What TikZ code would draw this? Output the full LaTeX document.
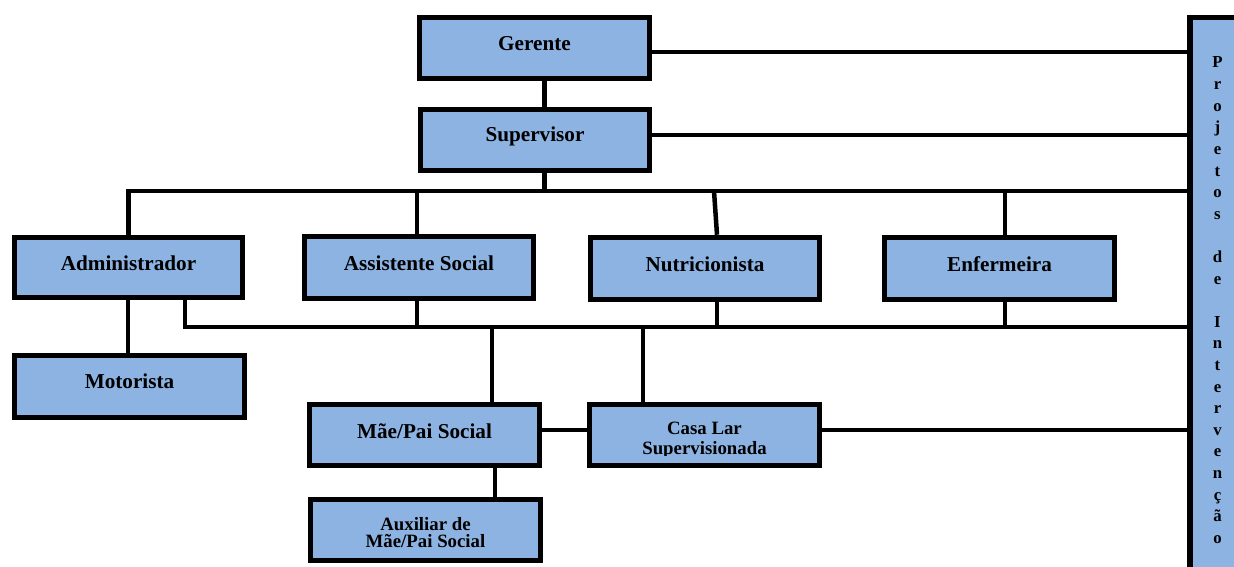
\documentclass[tikz,border=0pt]{standalone}
\usepackage{fontspec}
\setmainfont{Liberation Serif}
\definecolor{boxblue}{RGB}{141,179,226}
\tikzset{
  box/.style={draw=black, fill=boxblue, line width=5.5pt, inner sep=0pt, minimum width=230pt, minimum height=61pt},
  lbl/.style={anchor=base, inner sep=0pt, font=\fontsize{21.2}{24}\selectfont\bfseries},
  slbl/.style={anchor=base, inner sep=0pt, font=\fontsize{18.8}{20}\selectfont\bfseries},
  vlbl/.style={anchor=base, inner sep=0pt, font=\fontsize{16.8}{20}\selectfont\bfseries},
  conn/.style={draw=black, line width=4.5pt},
}
\begin{document}
\begin{tikzpicture}[x=1pt,y=-1pt]
\useasboundingbox (0,0) rectangle (1234,567);

% right vertical bar
\node[draw=black, fill=boxblue, line width=5.5pt, inner sep=0pt, minimum width=120pt, minimum height=620pt, anchor=north west] (bar) at (1187,15) {};
\foreach \i/\l in {1/P,2/r,3/o,4/j,5/e,6/t,7/o,8/s,10/d,11/e,13/I,14/n,15/t,16/e,17/r,18/v,19/e,20/n,21/ç,22/ã,23/o}
  \node[vlbl] (v\i) at (1217.5,{68+21.6*(\i-1)}) {\l};

% boxes
\node[box, minimum width=230pt] (ger) at (534.5,48) {};
\node[box, minimum width=229pt] (sup) at (535,140) {};
\node[box, minimum width=228pt, minimum height=60pt] (adm) at (128.5,267.5) {};
\node[box, minimum width=229pt, minimum height=62pt] (ast) at (419,267.5) {};
\node[box, minimum width=229pt, minimum height=62pt] (nut) at (705,268.5) {};
\node[box, minimum width=230pt, minimum height=62pt] (enf) at (999.5,268.5) {};
\node[box, minimum height=62pt] (mot) at (129.5,386.5) {};
\node[box] (mae) at (424.5,435) {};
\node[box] (casa) at (704.5,435) {};
\node[box] (aux) at (425.5,530) {};

% labels
\node[lbl] (ger-t) at (534.5,50.5) {Gerente};
\node[lbl] (sup-t) at (535,142) {Supervisor};
\node[lbl] (adm-t) at (128.5,270) {Administrador};
\node[lbl] (ast-t) at (419,270) {Assistente Social};
\node[lbl] (nut-t) at (705,271) {Nutricionista};
\node[lbl] (enf-t) at (999.5,271) {Enfermeira};
\node[lbl] (mot-t) at (129.5,388) {Motorista};
\node[lbl] (mae-t) at (424.5,438) {Mãe/Pai Social};
\begin{scope}
  \clip (587,402) rectangle (822,455.5);
  \node[slbl] (casa-t1) at (704.5,434) {Casa Lar};
  \node[slbl] (casa-t2) at (704.5,454) {Supervisionada};
\end{scope}
\begin{scope}
  \clip (308,497) rectangle (543,548.5);
  \node[slbl] (aux-t1) at (425.5,530) {Auxiliar de};
  \node[slbl] (aux-t2) at (425.5,547) {Mãe/Pai Social};
\end{scope}

% bus coordinates
\coordinate (hl) at (545,191);
\coordinate (ll) at (545,327);

% connectors
\draw[conn] ([xshift=10pt]ger.south) -- ([xshift=10pt]ger.south |- sup.north);
\draw[conn] ([yshift=-4pt]ger.east) -- ([yshift=-4pt]ger.east -| bar.west);
\draw[conn] ([yshift=5pt]sup.east) -- ([yshift=5pt]sup.east -| bar.west);
\draw[conn] ([xshift=9.5pt]sup.south) -- ([xshift=9.5pt]sup.south |- hl);
\draw[conn] (adm.north) |- (hl -| bar.west);
\draw[conn] ([xshift=-2pt]ast.north) -- ([xshift=-2pt]ast.north |- hl);
\draw[conn] ([xshift=12pt]nut.north) -- ([xshift=9pt]nut.north |- hl);
\draw[conn] ([xshift=5.5pt]enf.north) -- ([xshift=5.5pt]enf.north |- hl);
\draw[conn] ([xshift=56.5pt]adm.south) |- (ll -| bar.west);
\draw[conn] ([xshift=-2pt]ast.south) -- ([xshift=-2pt]ast.south |- ll);
\draw[conn] ([xshift=12pt]nut.south) -- ([xshift=12pt]nut.south |- ll);
\draw[conn] ([xshift=5.5pt]enf.south) -- ([xshift=5.5pt]enf.south |- ll);
\draw[conn] ([xshift=-0.5pt]adm.south) -- ([xshift=-0.5pt]adm.south |- mot.north);
\draw[conn] ([xshift=67.5pt]mae.north) -- ([xshift=67.5pt]mae.north |- ll);
\draw[conn] ([xshift=-61.5pt]casa.north) -- ([xshift=-61.5pt]casa.north |- ll);
\draw[conn] ([yshift=5pt]mae.east) -- ([yshift=5pt]casa.west);
\draw[conn] ([yshift=5pt]casa.east) -- ([yshift=5pt]casa.east -| bar.west);
\draw[conn] ([xshift=70.5pt]mae.south) -- ([xshift=70.5pt]mae.south |- aux.north);
\end{tikzpicture}
\end{document}
